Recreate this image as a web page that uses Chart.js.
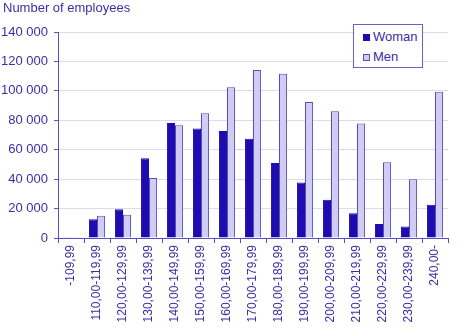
<!DOCTYPE html>
<html>
<head>
<meta charset="utf-8">
<script src="https://cdn.jsdelivr.net/npm/chart.js@4"></script>
<style>
  html, body { margin: 0; padding: 0; background: #fff; }
  #wrap { position: relative; width: 474px; height: 336px; }
  #title { position: absolute; left: 3px; top: 0px; font: 13px "Liberation Sans", Arial, sans-serif; color: #3a2ea6; }
  #legend { position: absolute; left: 353px; top: 24px; width: 68px; height: 42px; border: 1px solid #6a5fc8; background: #fff;
            font: 13px "Liberation Sans", Arial, sans-serif; color: #3a2ea6; }
  #legend div { position: absolute; left: 9px; }
  #legend span.box { display: inline-block; width: 7px; height: 7px; margin-right: 3px; box-sizing: border-box; vertical-align: 0px; }
</style>
</head>
<body>
<div id="wrap">
  <canvas id="chart" width="474" height="336"></canvas>
  <div id="title">Number of employees</div>
  <div id="legend"></div>
</div>
<script>
// Salary ranges (thousand SEK per year) and number of employees
const categories = ["-109,99", "110,00-119,99", "120,00-129,99", "130,00-139,99", "140,00-149,99",
    "150,00-159,99", "160,00-169,99", "170,00-179,99", "180,00-189,99", "190,00-199,99",
    "200,00-209,99", "210,00-219,99", "220,00-229,99", "230,00-239,99", "240,00-"];
const woman = [200, 12700, 19500, 54200, 78200, 74500, 72700, 67500, 51000, 37800, 26000, 16800, 9500, 7900, 22600];
const men = [200, 15200, 15800, 40800, 76600, 84700, 102400, 114200, 111700, 92400, 86100, 77900, 51400, 39900, 99400];
const yTicks = [0, 20000, 40000, 60000, 80000, 100000, 120000, 140000];

const textColor = "#3a2ea6";
const axisColor = "#5a4fc0";
const gridColor = "#dcdaf2";
const fontFamily = '"Liberation Sans", Arial, sans-serif';

const datasets = [
    { label: "Woman", data: woman, backgroundColor: "#1f0cb0", borderColor: "#1f0cb0", borderWidth: 1 },
    { label: "Men", data: men, backgroundColor: "#cfcdf5", borderColor: "#5a4db8", borderWidth: 1 }
];

const ctx = document.getElementById("chart").getContext("2d");
new Chart(ctx, {
    type: "bar",
    data: { labels: categories, datasets: datasets },
    options: {
        responsive: false,
        animation: false,
        layout: { padding: { top: 32, right: 26, left: 0, bottom: 0 } },
        datasets: { bar: { categoryPercentage: 0.62, barPercentage: 1 } },
        plugins: { legend: { display: false }, tooltip: { enabled: false } },
        scales: {
            x: {
                grid: { display: true, offset: true, drawOnChartArea: false, tickLength: 5, color: axisColor },
                border: { color: axisColor, width: 1 },
                ticks: { color: textColor, font: { family: fontFamily, size: 12 }, minRotation: 90, maxRotation: 90, padding: 2 },
                afterFit: (scale) => { scale.height = 98; }
            },
            y: {
                min: 0,
                max: 140000,
                afterBuildTicks: (scale) => { scale.ticks = yTicks.map(v => ({ value: v })); },
                grid: { color: gridColor, tickLength: 4, tickColor: axisColor },
                border: { color: axisColor, width: 1 },
                ticks: {
                    color: textColor,
                    font: { family: fontFamily, size: 13 },
                    padding: 6,
                    callback: (v) => v.toString().replace(/\B(?=(\d{3})+(?!\d))/g, " ")
                },
                afterFit: (scale) => { scale.width = 58; }
            }
        }
    }
});

// Legend box inside the plot, built from the datasets
const legend = document.getElementById("legend");
datasets.forEach((ds, i) => {
    const item = document.createElement("div");
    item.style.top = (4 + i * 20) + "px";
    const box = document.createElement("span");
    box.className = "box";
    box.style.background = ds.backgroundColor;
    box.style.border = "1px solid " + ds.borderColor;
    item.appendChild(box);
    item.appendChild(document.createTextNode(ds.label));
    legend.appendChild(item);
});
</script>
</body>
</html>
